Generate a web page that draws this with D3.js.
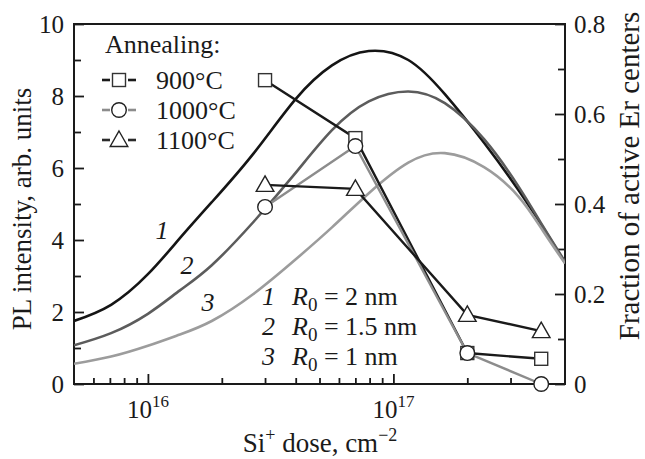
<!DOCTYPE html>
<html><head><meta charset="utf-8">
<script src="https://cdn.jsdelivr.net/npm/d3@7"></script>
<style>body{margin:0;background:#fff}</style>
</head><body><svg id="c" width="645" height="459" style="font-family:'Liberation Serif'"></svg>
<script>
// ---- data ----
const doseGrid = [5.0e15, 7.08e15, 1.0e16, 1.35e16, 1.82e16, 2.69e16, 3.98e16, 5.62e16, 7.94e16, 1.15e17, 1.62e17, 2.34e17, 3.24e17, 4.07e17, 5.0e17];
// theoretical fraction of active Er centers (right axis)
const curveR2 = [0.140, 0.176, 0.244, 0.324, 0.404, 0.512, 0.632, 0.708, 0.740, 0.720, 0.644, 0.536, 0.430, 0.348, 0.270];
const curveR15 = [0.086, 0.113, 0.156, 0.208, 0.264, 0.360, 0.468, 0.564, 0.628, 0.650, 0.624, 0.544, 0.438, 0.350, 0.272];
const curveR1 = [0.045, 0.061, 0.085, 0.110, 0.140, 0.200, 0.276, 0.348, 0.424, 0.492, 0.513, 0.482, 0.416, 0.340, 0.268];
const curveNames = ["1", "2", "3"];
const curveRadii = ["2", "1.5", "1"];
// experimental PL intensity (left axis)
const expDose = [3e16, 7e16, 2e17, 4e17];
const pl900 = [8.44, 6.83, 0.86, 0.70];
const pl1000 = [4.92, 6.61, 0.86, 0.0];
const pl1100 = [5.53, 5.42, 1.92, 1.47];
const seriesLabels = ["900°C", "1000°C", "1100°C"];
const leftTicks = [0, 2, 4, 6, 8, 10];
const leftMinor = [1, 3, 5, 7, 9];
const rightTicks = [0, 0.2, 0.4, 0.6, 0.8];
const rightMinor = [0.1, 0.3, 0.5, 0.7];
const xMajor = [1e16, 1e17];
const xMinor = [6e15, 7e15, 8e15, 9e15, 2e16, 3e16, 4e16, 5e16, 6e16, 7e16, 8e16, 9e16, 2e17, 3e17, 4e17];

// ---- layout ----
const L = 74, R = 565, T = 24, B = 384;
const svg = d3.select("#c");
const x = d3.scaleLog().domain([5e15, 5e17]).range([L, R]);
const yL = d3.scaleLinear().domain([0, 10]).range([B, T]);
const yR = d3.scaleLinear().domain([0, 0.8]).range([B, T]);

svg.append("defs").append("clipPath").attr("id", "clip")
  .append("rect").attr("x", L).attr("y", T).attr("width", R - L).attr("height", B - T);

const serif = sel => sel.style("font-family", '"Liberation Serif"');

// axes
function styleAxis(g) {
  g.attr("font-family", null).attr("font-size", null);
  g.select(".domain").remove();
  g.selectAll("line").attr("stroke", "#1a1a1a").attr("stroke-width", 1.8);
  g.selectAll("text").call(serif).attr("font-size", 25).attr("fill", "#1a1a1a");
}
svg.append("g").attr("transform", `translate(${L},0)`)
  .call(d3.axisLeft(yL).tickValues(leftTicks).tickSize(-10).tickPadding(10).tickFormat(d3.format("d"))).call(styleAxis);
svg.append("g").attr("transform", `translate(${L},0)`)
  .call(d3.axisLeft(yL).tickValues(leftMinor).tickSize(-7).tickFormat("")).call(styleAxis);
svg.append("g").attr("transform", `translate(${R},0)`)
  .call(d3.axisRight(yR).tickValues(rightTicks).tickSize(-10).tickPadding(9).tickFormat(d => d === 0 ? "0" : d3.format(".1f")(d))).call(styleAxis);
svg.append("g").attr("transform", `translate(${R},0)`)
  .call(d3.axisRight(yR).tickValues(rightMinor).tickSize(-7).tickFormat("")).call(styleAxis);
svg.append("g").attr("transform", `translate(0,${B})`)
  .call(d3.axisBottom(x).tickValues(xMajor).tickSize(-10).tickFormat("")).call(styleAxis);
svg.append("g").attr("transform", `translate(0,${B})`)
  .call(d3.axisBottom(x).tickValues(xMinor).tickSize(-6).tickFormat("")).call(styleAxis);

const txt = (xx, yy, str, size, extra) => {
  const t = svg.append("text").attr("x", xx).attr("y", yy).call(serif)
    .attr("font-size", size).attr("fill", "#1a1a1a");
  if (str !== null) t.text(str);
  if (extra) extra(t);
  return t;
};

// x tick labels with superscripts
xMajor.forEach(v => {
  const t = txt(x(v), 418, null, 25, t => t.attr("text-anchor", "middle"));
  t.append("tspan").text("10");
  t.append("tspan").attr("font-size", 17).attr("dy", -11).text(Math.round(Math.log10(v)));
});

// frame
svg.append("rect").attr("x", L).attr("y", T).attr("width", R - L).attr("height", B - T)
  .attr("fill", "none").attr("stroke", "#1a1a1a").attr("stroke-width", 2);

// theoretical curves
const plot = svg.append("g").attr("clip-path", "url(#clip)");
const curveLine = d3.line().x(d => x(d[0])).y(d => yR(d[1])).curve(d3.curveNatural);
const curveColors = ["#151515", "#5c5c5c", "#9c9c9c"];
[curveR2, curveR15, curveR1].forEach((c, i) => {
  plot.append("path").datum(doseGrid.map((d, j) => [d, c[j]]))
    .attr("d", curveLine).attr("fill", "none").attr("stroke", curveColors[i]).attr("stroke-width", 2.6);
});

// experimental series
const expLine = d3.line().x(d => x(d[0])).y(d => yL(d[1]));
const lineColors = ["#1a1a1a", "#8c8c8c", "#1a1a1a"];
const allSeries = [pl900, pl1000, pl1100];
allSeries.forEach((s, i) => {
  svg.append("path").datum(expDose.map((d, j) => [d, s[j]]))
    .attr("d", expLine).attr("fill", "none").attr("stroke", lineColors[i]).attr("stroke-width", 2.4);
});
function marker(g, kind, cx, cy) {
  if (kind === 0) {
    g.append("rect").attr("x", cx - 6.5).attr("y", cy - 6.5).attr("width", 13).attr("height", 13)
      .attr("fill", "#fff").attr("stroke", "#333").attr("stroke-width", 1.4);
  } else if (kind === 1) {
    g.append("circle").attr("cx", cx).attr("cy", cy).attr("r", 7.3)
      .attr("fill", "#fff").attr("stroke", "#222").attr("stroke-width", 1.4);
  } else {
    g.append("path").attr("d", `M${cx},${cy - 9}L${cx + 8.8},${cy + 6.5}L${cx - 8.8},${cy + 6.5}Z`)
      .attr("fill", "#fff").attr("stroke", "#222").attr("stroke-width", 1.4);
  }
}
const mk = svg.append("g");
allSeries.forEach((s, i) => {
  expDose.forEach((d, j) => marker(mk, i, x(d), yL(s[j])));
});

// legend (top-left)
txt(105, 53, "Annealing:", 26);
const legY = [80, 110, 140];
const dashColors = ["#1a1a1a", "#8c8c8c", "#2a2a2a"];
seriesLabels.forEach((lab, i) => {
  const cy = legY[i];
  [[102, 110], [128, 136]].forEach(([a, b]) => {
    svg.append("line").attr("x1", a).attr("x2", b).attr("y1", cy).attr("y2", cy)
      .attr("stroke", dashColors[i]).attr("stroke-width", 2.6);
  });
  marker(svg, i, 119, cy);
  txt(156, cy + 9, lab, 26);
});

// curve labels
const curveLabelPos = [[162, 239], [187, 274], [208, 311]];
curveNames.forEach((n, i) => {
  txt(curveLabelPos[i][0], curveLabelPos[i][1], n, 26, t => t.attr("font-style", "italic").attr("text-anchor", "middle"));
});
// R0 legend
const rowY = [305, 335, 365];
curveNames.forEach((n, i) => {
  txt(262, rowY[i], n, 26, t => t.attr("font-style", "italic"));
  const t = txt(292, rowY[i], null, 26);
  t.append("tspan").attr("font-style", "italic").text("R");
  t.append("tspan").attr("font-size", 19).attr("dy", 6).text("0");
  t.append("tspan").attr("dy", -6).text(" = " + curveRadii[i] + " nm");
});

// axis titles
txt(0, 0, "PL intensity, arb. units", 27, t => t.attr("text-anchor", "middle")
  .attr("transform", "translate(31,209) rotate(-90)"));
txt(0, 0, "Fraction of active Er centers", 29, t => t.attr("text-anchor", "middle")
  .attr("transform", "translate(639,176) rotate(-90)"));
const xt = txt(320, 452, null, 27, t => t.attr("text-anchor", "middle"));
xt.append("tspan").text("Si");
xt.append("tspan").attr("font-size", 18).attr("dy", -11).text("+");
xt.append("tspan").attr("dy", 11).text(" dose, cm");
xt.append("tspan").attr("font-size", 18).attr("dy", -11).text("\u22122");
</script></body></html>
